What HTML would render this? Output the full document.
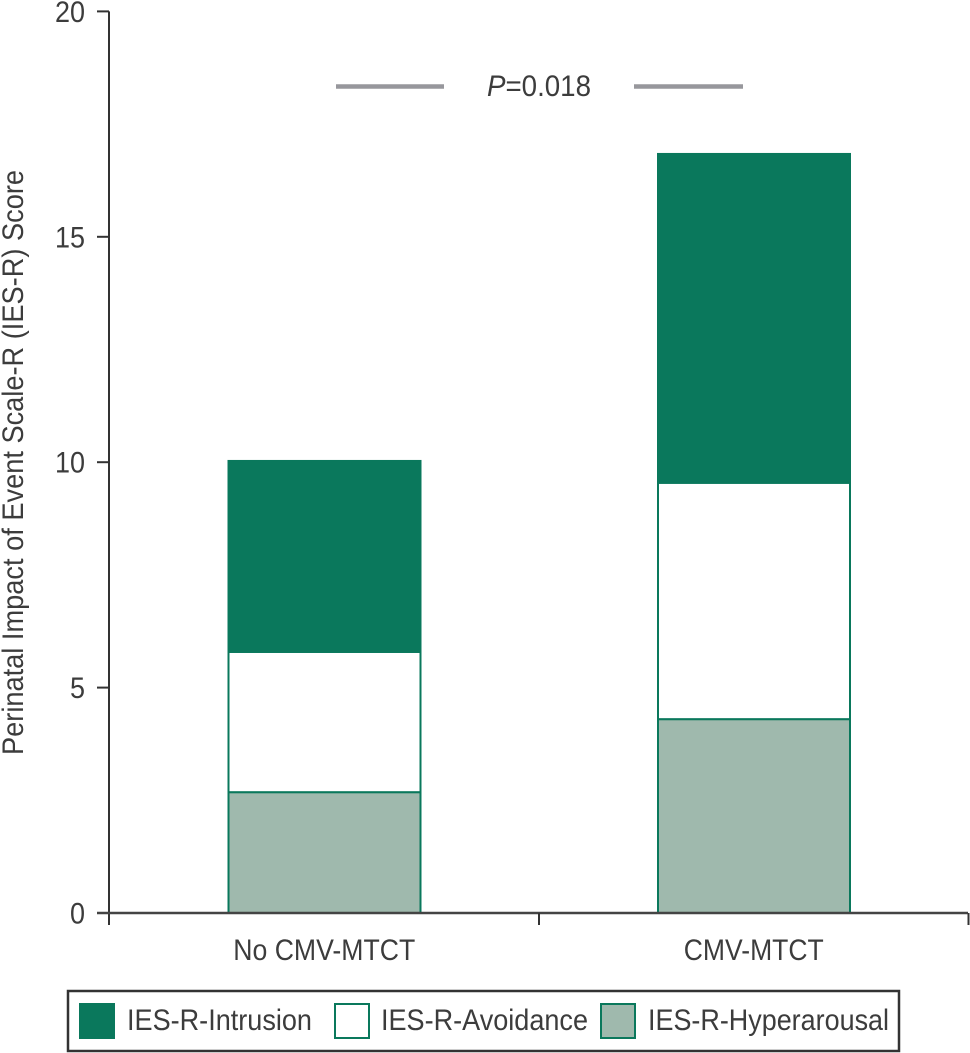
<!DOCTYPE html>
<html>
<head>
<meta charset="utf-8">
<style>
html,body{margin:0;padding:0;background:#fff;}
svg{display:block;}
text{font-family:"Liberation Sans",sans-serif;fill:#3c3c3c;}
</style>
</head>
<body>
<svg id="chart" width="970" height="1053" viewBox="0 0 970 1053" xmlns="http://www.w3.org/2000/svg"></svg>
<script>
const categories = ['No CMV-MTCT', 'CMV-MTCT'];
const hyperarousal = [2.68, 4.30];
const avoidance = [3.11, 5.24];
const intrusion = [4.26, 7.32];
const yTicks = [0, 5, 10, 15, 20];
const yTitle = 'Perinatal Impact of Event Scale-R (IES-R) Score';

const svg = document.getElementById('chart');
const NS = 'http://www.w3.org/2000/svg';
const yScale = v => 913 - v * 45.08;
const bandLeft = 109, bandWidth = 429.5, barWidth = 193;
const bandCenter = i => bandLeft + bandWidth * (i + 0.5);

function make(tag, attrs, text) {
  const el = document.createElementNS(NS, tag);
  for (const k in attrs) el.setAttribute(k, attrs[k]);
  if (text !== undefined) el.textContent = text;
  svg.appendChild(el);
  return el;
}

// bars
const GREEN = '#0a785c', GREY = '#9fb9ad';
categories.forEach((c, i) => {
  const x = bandCenter(i) - barWidth / 2 + 1.25;
  const h0 = yScale(0);
  const h1 = yScale(hyperarousal[i]);
  const h2 = yScale(hyperarousal[i] + avoidance[i]);
  const h3 = yScale(hyperarousal[i] + avoidance[i] + intrusion[i]);

  const r1 = make('rect', {x: x, y: h1, width: barWidth - 1, height: h0 - h1, fill: GREY, stroke: GREEN, 'stroke-width': 2});
  
  

  const r2 = make('rect', {x: x, y: h2, width: barWidth - 1, height: h1 - h2, fill: '#fff', stroke: GREEN, 'stroke-width': 2});
  
  

  const r3 = make('rect', {x: x - 1, y: h3, width: barWidth + 1, height: h2 - h3, fill: GREEN});
  
  
});

// y axis
const yLine = make('line', {x1: 109, y1: yScale(20), x2: 109, y2: 925, stroke: '#333', 'stroke-width': 2});



yTicks.forEach(t => {
  const tick = make('line', {x1: 97, y1: yScale(t), x2: 109, y2: yScale(t), stroke: '#333', 'stroke-width': 2});
  
  
  const label = make('text', {x: 85, y: yScale(t) + 10.5, 'text-anchor': 'end', 'font-size': 30}, String(t));
  
  
  label.setAttribute('textLength', String(t).length * 15);
  label.setAttribute('lengthAdjust', 'spacingAndGlyphs');
});

// x axis
const xLine = make('line', {x1: 97, y1: 913, x2: 968, y2: 913, stroke: '#444', 'stroke-width': 2.5});



[1, 2].forEach(n => {
  const tx = bandLeft + bandWidth * n + 0.5;
  const tick = make('line', {x1: tx, y1: 913, x2: tx, y2: 925, stroke: '#333', 'stroke-width': 2});
  
  
});

const labelWidths = [182, 140];
categories.forEach((c, i) => {
  const label = make('text', {x: bandCenter(i) - labelWidths[i] / 2 + 0.5, y: 960, 'font-size': 30}, c);
  
  
  label.setAttribute('textLength', labelWidths[i]);
  label.setAttribute('lengthAdjust', 'spacingAndGlyphs');
});

// y title
const title = make('text', {x: 0, y: 0, 'font-size': 30, transform: 'translate(23,755) rotate(-90)'}, yTitle);


title.setAttribute('textLength', 585);
title.setAttribute('lengthAdjust', 'spacingAndGlyphs');

// significance annotation
[[336, 444], [634, 743]].forEach(p => {
  const l = make('line', {x1: p[0], y1: 86.5, x2: p[1], y2: 86.5, stroke: '#97979c', 'stroke-width': 4.5});
  
  
});
const pText = make('text', {x: 487, y: 96, 'font-size': 30});


pText.setAttribute('textLength', 104);
pText.setAttribute('lengthAdjust', 'spacingAndGlyphs');
pText.innerHTML = '<tspan font-style="italic">P</tspan>=0.018';

// legend
const legendBox = make('rect', {x: 68, y: 991, width: 831, height: 60, fill: '#fff', stroke: '#333', 'stroke-width': 2.5});



const legendNames = ['IES-R-Intrusion', 'IES-R-Avoidance', 'IES-R-Hyperarousal'];
const swatchX = [80, 335, 601];
const swatchFill = [GREEN, '#fff', GREY];
const textX = [127, 381, 648];
const textW = [185, 207, 241];
legendNames.forEach((n, i) => {
  const s = make('rect', {x: swatchX[i], y: 1004, width: 34, height: 34, fill: swatchFill[i], stroke: GREEN, 'stroke-width': 2});
  
  
  const t = make('text', {x: textX[i], y: 1030, 'font-size': 30}, n);
  
  
  t.setAttribute('textLength', textW[i]);
  t.setAttribute('lengthAdjust', 'spacingAndGlyphs');
});
</script>
</body>
</html>
